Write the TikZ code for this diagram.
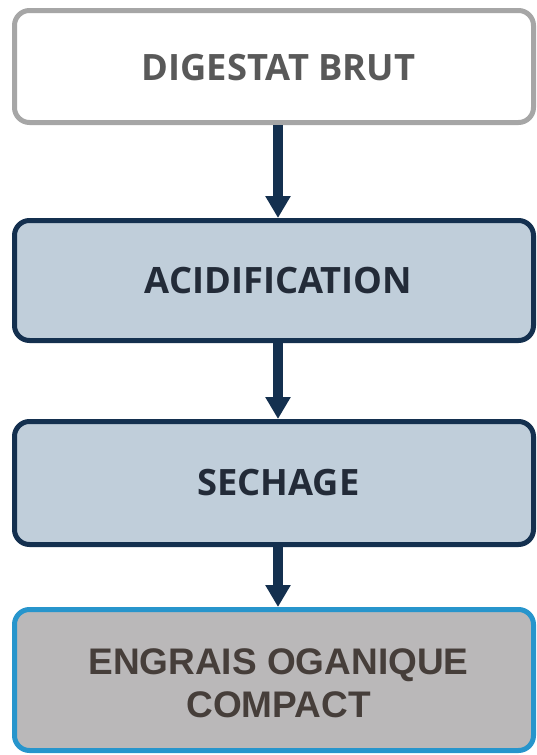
\documentclass[tikz,border=0pt]{standalone}
\usepackage{fontspec}
\newfontfamily\stepfont{Open Sans}
\newfontfamily\endfont{Liberation Sans}
\usepackage{tikz}
\usetikzlibrary{positioning, arrows.meta}

\definecolor{navy}{HTML}{14304F}
\definecolor{paleblue}{HTML}{C0CEDA}
\definecolor{inkblue}{HTML}{232B38}
\definecolor{rimgray}{HTML}{A6A6A6}
\definecolor{inkgray}{HTML}{595959}
\definecolor{skyrim}{HTML}{2795CC}
\definecolor{stone}{HTML}{BAB8B9}
\definecolor{inkbrown}{HTML}{463E3A}

\begin{document}
\begin{tikzpicture}[
          x=1pt, y=1pt,
          box/.style={rounded corners=15pt, line width=5pt, minimum width=519pt},
          rawbox/.style={box, draw=rimgray, fill=white, minimum height=112pt},
          stepbox/.style={box, draw=navy, fill=paleblue},
          outbox/.style={box, draw=skyrim, fill=stone, minimum height=141pt},
          lbl/.style={align=center, font=\stepfont\bfseries\fontsize{36.3}{43}\selectfont},
          outlbl/.style={lbl, text=inkbrown, font=\endfont\bfseries\fontsize{37}{43}\selectfont},
          flow/.style={draw=navy, line width=10pt, -{Triangle[width=24pt,length=22pt]}}
        ]
        \useasboundingbox (0,0) rectangle (537,-755);
        \node[rawbox] (raw) at (274,-66.5) {};
        \node[stepbox, minimum height=120pt, below=93pt of raw] (acid) {};
        \node[stepbox, minimum height=123pt, below=76pt of acid] (dry) {};
        \node[outbox, below=60pt of dry] (fert) {};
        % labels sit a little right of the box centres
        \node[lbl, text=inkgray] (rawtxt) at ([xshift=4.5pt,yshift=-1pt]raw.center) {DIGESTAT BRUT};
        \node[lbl, text=inkblue] (acidtxt) at ([xshift=4.5pt]acid.center) {ACIDIFICATION};
        \node[lbl, text=inkblue] (drytxt) at ([xshift=4.5pt]dry.center) {SECHAGE};
        \node[outlbl] (ferttxt) at ([xshift=4.5pt,yshift=-3pt]fert.center) {ENGRAIS OGANIQUE\\COMPACT};
        \foreach\a/\b in {raw/acid, acid/dry, dry/fert}{
          \draw[flow] ([xshift=4pt]\a.south) -- ([xshift=4pt]\b.north);
        }
      \end{tikzpicture}
\end{document}
